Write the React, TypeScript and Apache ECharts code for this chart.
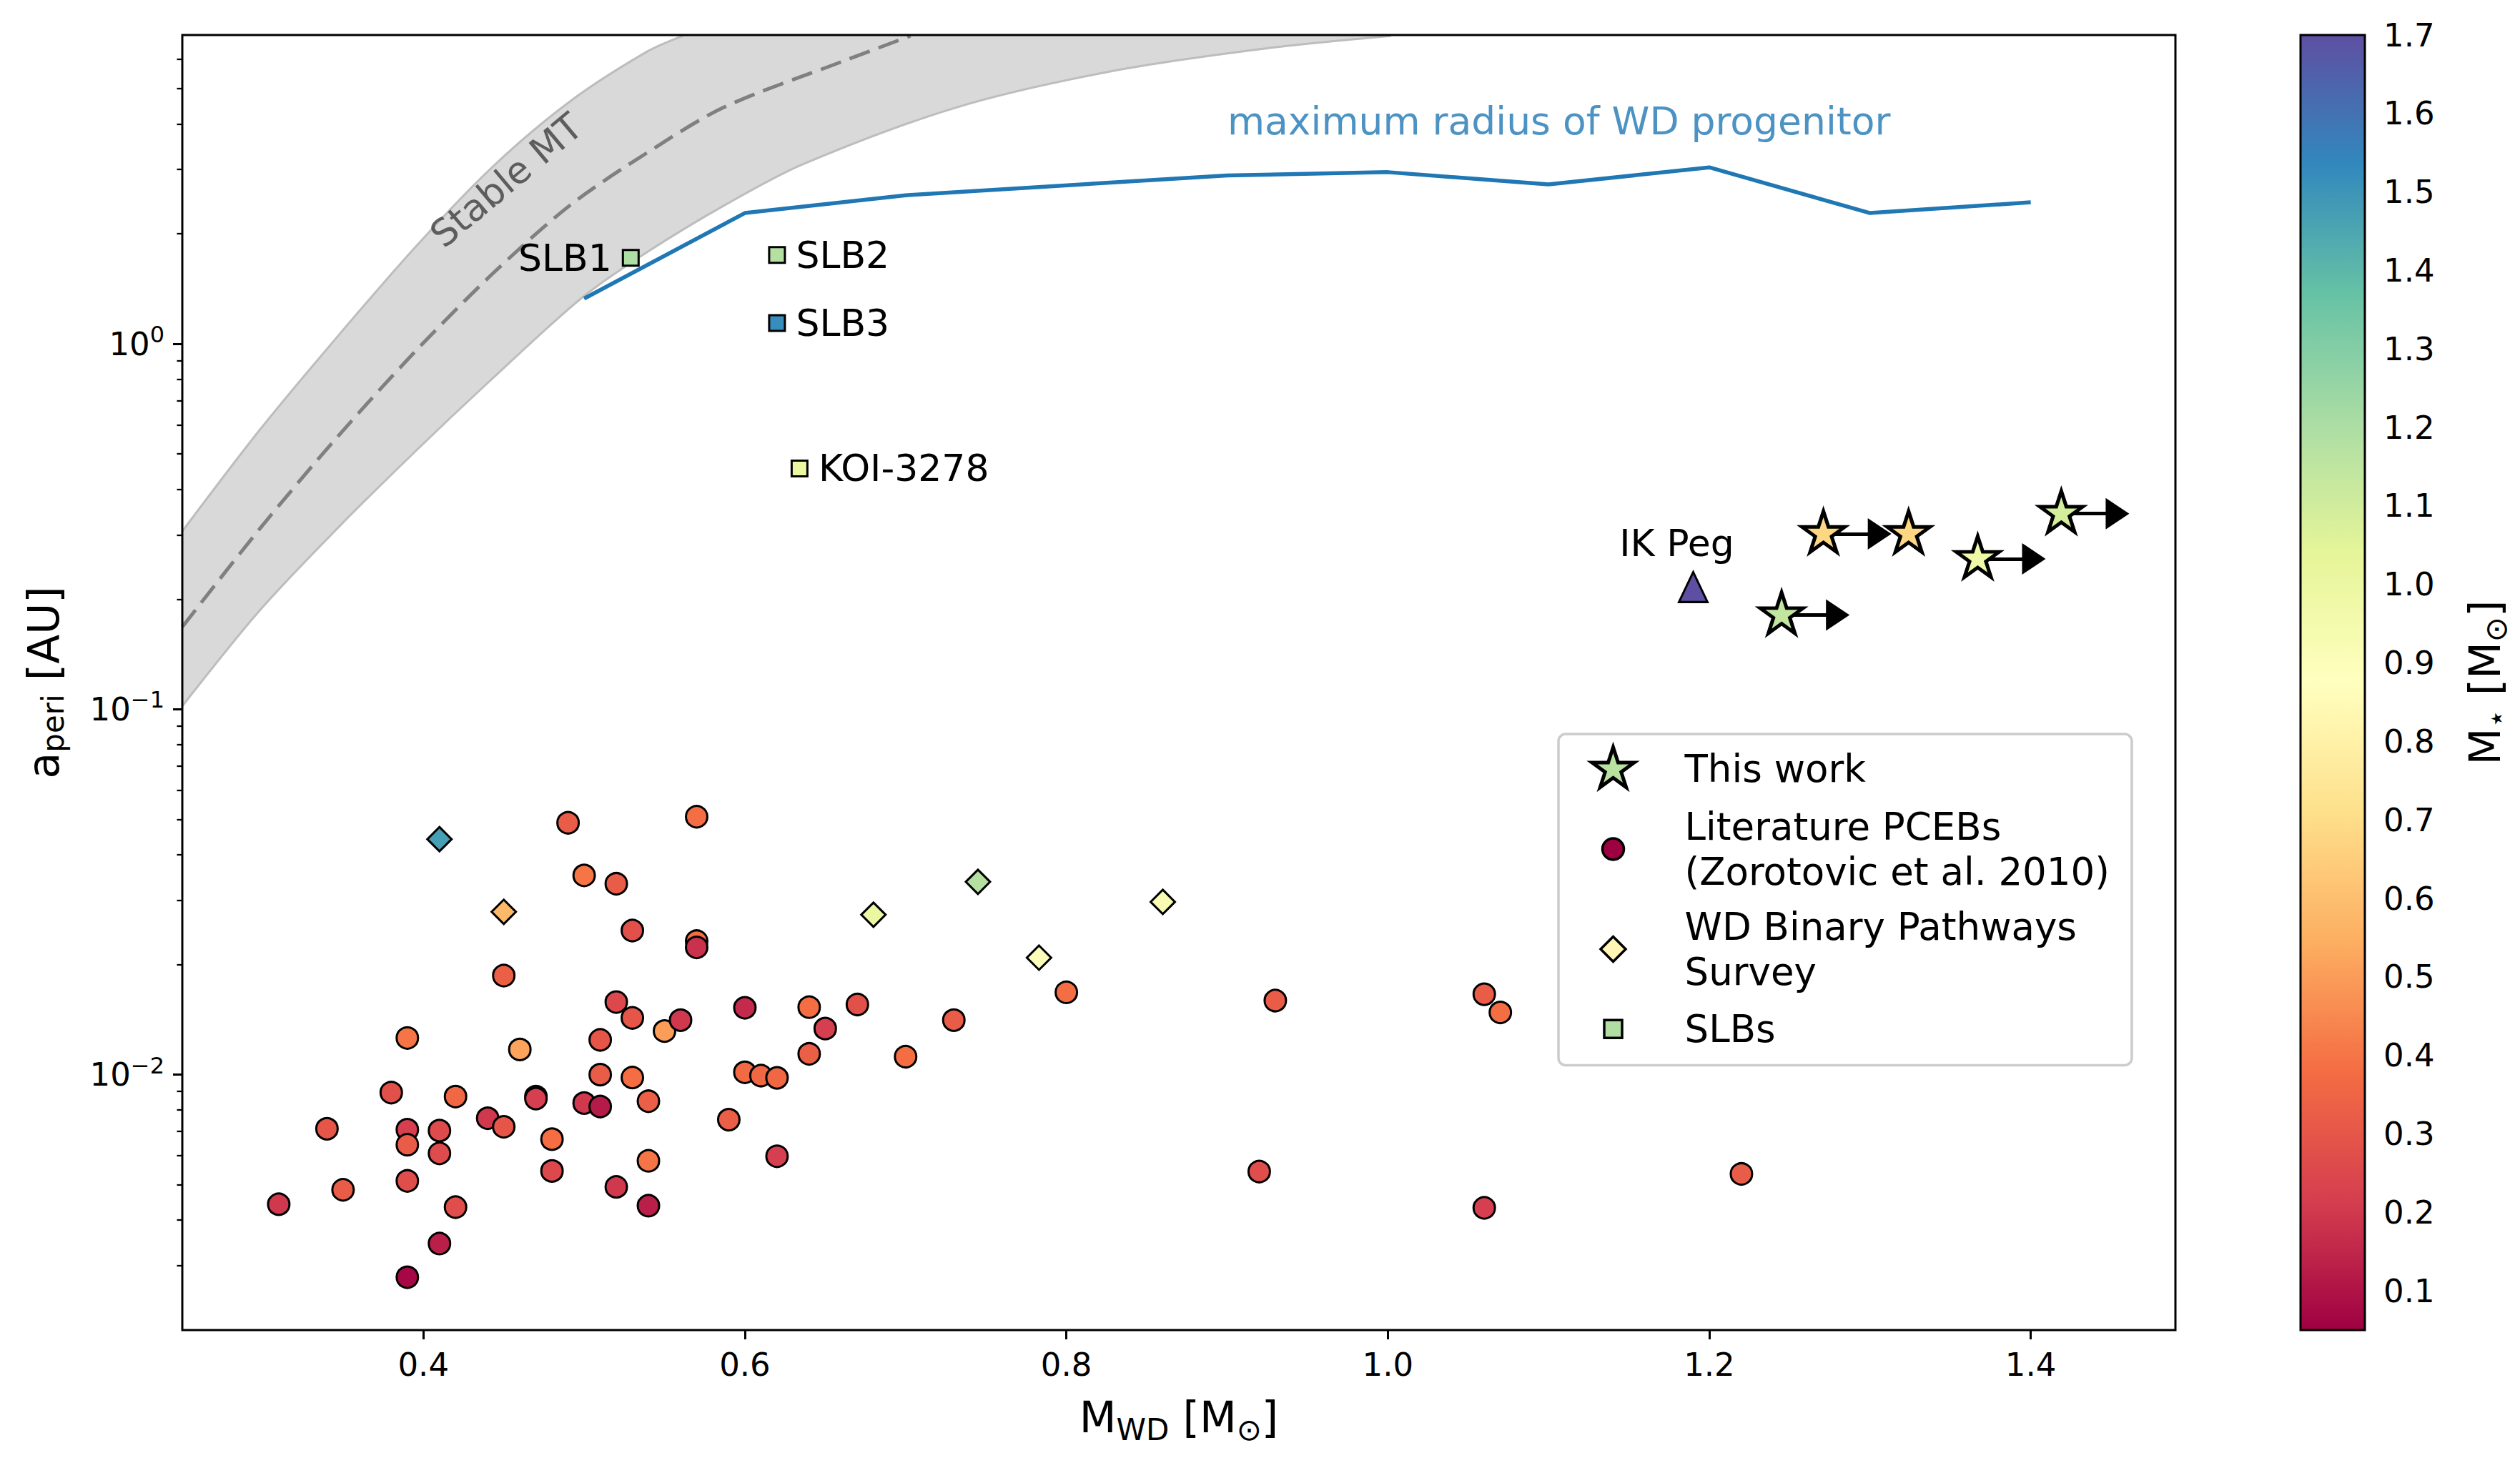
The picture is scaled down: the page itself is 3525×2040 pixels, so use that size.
import { useEffect, useRef } from 'react';
import * as echarts from 'echarts';

const FONT = 'DejaVu Sans';

// matplotlib "Spectral", low -> high
const spectral = ['#9e0142', '#d53e4f', '#f46d43', '#fdae61', '#fee08b', '#ffffbf', '#e6f598', '#abdda4', '#66c2a5', '#3288bd', '#5e4fa2'];

// axes
const xTicks = [0.4, 0.6, 0.8, 1.0, 1.2, 1.4];
const yTicks = [0.01, 0.1, 1];
const yMinorTicks = [0.003, 0.004, 0.005, 0.006, 0.007, 0.008, 0.009, 0.02, 0.03, 0.04, 0.05, 0.06, 0.07, 0.08, 0.09, 0.2, 0.3, 0.4, 0.5, 0.6, 0.7, 0.8, 0.9, 2, 3, 4, 5, 6];
const cbarTicks = [0.1, 0.2, 0.3, 0.4, 0.5, 0.6, 0.7, 0.8, 0.9, 1.0, 1.1, 1.2, 1.3, 1.4, 1.5, 1.6, 1.7];

// Literature PCEBs (Zorotovic et al. 2010)
const pcebMwd = [0.31, 0.34, 0.35, 0.38, 0.39, 0.39, 0.39, 0.39, 0.39, 0.41, 0.41, 0.41, 0.42, 0.42, 0.44, 0.45, 0.45, 0.46, 0.47, 0.47, 0.48, 0.48, 0.49, 0.50, 0.50, 0.51, 0.51, 0.51, 0.52, 0.52, 0.52, 0.53, 0.53, 0.53, 0.54, 0.54, 0.54, 0.55, 0.56, 0.57, 0.57, 0.57, 0.59, 0.60, 0.60, 0.61, 0.62, 0.62, 0.64, 0.64, 0.65, 0.67, 0.70, 0.73, 0.80, 0.92, 0.93, 1.06, 1.06, 1.07, 1.22];
const pcebA = [0.00442, 0.00711, 0.00484, 0.00893, 0.0126, 0.00707, 0.00643, 0.00512, 0.00279, 0.00703, 0.00609, 0.00345, 0.00871, 0.00434, 0.0076, 0.0072, 0.01867, 0.01172, 0.00871, 0.0086, 0.00666, 0.00545, 0.0489, 0.0351, 0.00836, 0.00818, 0.01245, 0.0100, 0.0333, 0.0158, 0.00493, 0.0248, 0.0143, 0.00982, 0.00846, 0.00581, 0.00438, 0.01316, 0.0141, 0.0508, 0.0232, 0.0223, 0.00753, 0.01524, 0.01015, 0.00994, 0.0098, 0.00598, 0.0153, 0.0114, 0.01337, 0.01556, 0.0112, 0.0141, 0.0168, 0.00543, 0.01595, 0.0166, 0.00432, 0.0148, 0.00535];
const pcebMstar = [0.20, 0.30, 0.32, 0.28, 0.40, 0.22, 0.32, 0.27, 0.07, 0.26, 0.26, 0.13, 0.36, 0.27, 0.20, 0.30, 0.33, 0.52, 0.30, 0.22, 0.38, 0.25, 0.32, 0.40, 0.20, 0.12, 0.30, 0.32, 0.32, 0.25, 0.20, 0.28, 0.30, 0.38, 0.33, 0.40, 0.13, 0.50, 0.20, 0.38, 0.38, 0.18, 0.33, 0.16, 0.37, 0.36, 0.36, 0.22, 0.38, 0.33, 0.22, 0.28, 0.38, 0.32, 0.38, 0.27, 0.32, 0.32, 0.22, 0.38, 0.32];

// WD Binary Pathways Survey
const wdbpMwd = [0.41, 0.45, 0.68, 0.745, 0.783, 0.86];
const wdbpA = [0.0441, 0.0279, 0.0274, 0.0337, 0.0209, 0.0297];
const wdbpMstar = [1.47, 0.58, 1.0, 1.18, 0.9, 0.93];

// self-lensing binaries
const slbNames = ['SLB1', 'SLB2', 'SLB3', 'KOI-3278'];
const slbMwd = [0.529, 0.62, 0.62, 0.634];
const slbA = [1.72, 1.75, 1.14, 0.456];
const slbMstar = [1.2, 1.18, 1.52, 1.0];
const slbLabelSide = ['left', 'right', 'right', 'right'];

// this work (lower limits on M_WD)
const thisMwd = [1.245, 1.271, 1.324, 1.367, 1.419];
const thisA = [0.181, 0.302, 0.302, 0.258, 0.343];
const thisMstar = [1.14, 0.68, 0.68, 0.98, 1.09];
const thisLowerLimit = [true, true, false, true, true];
const arrowLen = 0.0325;

// IK Peg
const ikMwd = [1.19];
const ikA = [0.216];
const ikMstar = [1.7];

// maximum radius of WD progenitor
const maxRadMwd = [0.5, 0.6, 0.7, 0.9, 1.0, 1.1, 1.2, 1.3, 1.4];
const maxRadA = [1.33, 2.28, 2.55, 2.89, 2.95, 2.73, 3.04, 2.28, 2.44];

// stable mass transfer band
const upperMwd = [0.25, 0.298, 0.346, 0.395, 0.443, 0.491, 0.539, 0.562];
const upperA = [0.307, 0.58, 1.04, 1.84, 3.05, 4.6, 6.3, 6.98];
const midMwd = [0.25, 0.298, 0.346, 0.395, 0.443, 0.491, 0.539, 0.587, 0.66, 0.703];
const midA = [0.168, 0.311, 0.553, 0.954, 1.555, 2.39, 3.33, 4.44, 5.91, 6.96];
const lowerMwd = [0.25, 0.298, 0.346, 0.395, 0.443, 0.498, 0.539, 0.587, 0.636, 0.732, 0.829, 0.925, 1.002];
const lowerA = [0.102, 0.186, 0.311, 0.508, 0.804, 1.33, 1.78, 2.39, 3.10, 4.44, 5.58, 6.44, 6.96];

const STAR = 'path://M100 0L122.45 69.1L195.11 69.1L136.33 111.8L158.78 180.9L100 138.2L41.22 180.9L63.67 111.8L4.89 69.1L77.55 69.1Z';
const ARROW_HEAD = 'path://M0 0L0 0M40 40L40 40M20 0L40 30L0 30Z';
// legend icons, padded out to the full 149x66 item box
const PAD = 'path://M0 0L0 0M149 66L149 66';
const legendIcons = [
  PAD + 'M54 3L60.96 24.42L83.48 24.42L65.26 37.66L72.22 59.08L54 45.84L35.78 59.08L42.74 37.66L24.52 24.42L47.04 24.42Z',
  PAD + 'M39 33A15 15 0 1 1 69 33A15 15 0 1 1 39 33Z',
  PAD + 'M54 15.5L71.5 33L54 50.5L36.5 33Z',
  PAD + 'M41.5 20.5L66.5 20.5L66.5 45.5L41.5 45.5Z',
];
const legendNames = ['This work', 'Literature PCEBs', 'WD Binary Pathways Survey', 'SLBs'];
const legendTexts = ['This work', 'Literature PCEBs\n(Zorotovic et al. 2010)', 'WD Binary Pathways\nSurvey', 'SLBs'];
const legendColors = ['#b9e1a0', '#9e0142', '#fff6b5', '#b0dea3'];

const zip = (xs: number[], ...cols: number[][]) => xs.map((x, i) => [x, ...cols.map((c) => c[i])]);

const richBase = (size: number) => ({ fontSize: size, fontFamily: FONT, color: '#000' });

function buildOption() {
  const axisName = (size: number, sub: number, drop: number) => ({
    rich: {
      a: richBase(size),
      s: { ...richBase(sub), padding: [drop, 0, 0, 0] },
    },
  });

  return {
    animation: false,
    backgroundColor: '#fff',
    textStyle: { fontFamily: FONT },
    grid: [
      { left: 255, top: 49, width: 2788, height: 1812, show: true, borderColor: '#000', borderWidth: 3, backgroundColor: 'transparent', z: 6, outerBoundsMode: 'none' },
      { left: 3218, top: 49, width: 90, height: 1812, show: true, borderColor: '#000', borderWidth: 3, backgroundColor: 'transparent', z: 10, outerBoundsMode: 'none' },
    ],
    xAxis: [
      {
        type: 'value', gridIndex: 0, min: 0.25, max: 1.49,
        axisLine: { show: false },
        axisTick: { show: true, length: 13, lineStyle: { color: '#000', width: 3 }, customValues: xTicks },
        axisLabel: { customValues: xTicks, formatter: (v: number) => v.toFixed(1), fontSize: 45, color: '#000', margin: 26, fontFamily: FONT },
        splitLine: { show: false },
        name: '{a|M}{s|WD}{a| [M}{s|⊙}{a|]}',
        nameLocation: 'middle', nameGap: 84, nameMoveOverlap: false,
        nameTextStyle: axisName(60, 42, 34),
      },
      { type: 'value', gridIndex: 1, min: 0, max: 1, show: false },
    ],
    yAxis: [
      {
        type: 'log', logBase: 10, gridIndex: 0, min: 0.002, max: 7,
        axisLine: { show: false },
        axisTick: { show: true, length: 13, lineStyle: { color: '#000', width: 3 }, customValues: yTicks },
        axisLabel: {
          customValues: yTicks, margin: 25,
          formatter: (v: number) => {
            const e = Math.round(Math.log10(v));
            return '{b|10}{s|' + (e < 0 ? '\u2212' + -e : String(e)) + '}';
          },
          rich: { b: richBase(45), s: { ...richBase(32), padding: [0, 0, 26, 0] } },
        },
        splitLine: { show: false },
        name: '{a|a}{s|peri}{a| [AU]}',
        nameLocation: 'middle', nameRotate: 90, nameGap: 160, nameMoveOverlap: false,
        nameTextStyle: axisName(60, 42, 26),
      },
      {
        type: 'log', logBase: 10, gridIndex: 0, min: 0.002, max: 7, position: 'left',
        axisLine: { show: false },
        axisTick: { show: true, length: 7.5, lineStyle: { color: '#000', width: 2.3 }, customValues: yMinorTicks },
        axisLabel: { show: false },
        splitLine: { show: false },
      },
      {
        type: 'value', gridIndex: 1, min: 0.05, max: 1.7, position: 'right',
        axisLine: { show: false },
        axisTick: { show: true, length: 13, lineStyle: { color: '#000', width: 3 }, customValues: cbarTicks },
        axisLabel: { customValues: cbarTicks, formatter: (v: number) => v.toFixed(1), fontSize: 45, color: '#000', margin: 26, fontFamily: FONT },
        splitLine: { show: false },
        name: '{a|M}{s|\u22c6}{a| [M}{s|⊙}{a|]}',
        nameLocation: 'middle', nameRotate: 90, nameGap: 132, nameMoveOverlap: false,
        nameTextStyle: axisName(60, 42, 30),
      },
    ],
    visualMap: {
      type: 'continuous', min: 0.05, max: 1.7, dimension: 2,
      seriesIndex: [5, 6, 7, 8, 9],
      inRange: { color: spectral },
      calculable: false, hoverLink: false, text: null,
      orient: 'vertical', left: 3218, top: 49, itemWidth: 90, itemHeight: 1812,
      padding: 0, borderWidth: 0,
    },
    legend: {
      orient: 'vertical', left: 2180, top: 1027,
      padding: [13, 31, 16, 20], itemGap: 14, itemWidth: 149, itemHeight: 66,
      backgroundColor: 'rgba(255,255,255,0.8)', borderColor: '#cccccc', borderWidth: 3.5, borderRadius: 10,
      selectedMode: false, z: 8,
      textStyle: { fontSize: 53, lineHeight: 63, color: '#000', fontFamily: FONT },
      formatter: (name: string) => legendTexts[legendNames.indexOf(name)],
      data: legendNames.map((name, i) => ({
        name,
        icon: legendIcons[i],
        itemStyle: { color: legendColors[i], borderColor: '#000', borderWidth: i === 0 ? 5 : 3.5 },
      })),
    },
    series: [
      {
        // 0: band, grey from the lower edge up
        type: 'line', z: 1, data: zip(lowerMwd, lowerA), symbol: 'none', smooth: 0.3, silent: true,
        lineStyle: { color: '#bdbdbd', width: 3 },
        areaStyle: { color: '#d9d9d9', opacity: 1, origin: 'end' },
      },
      {
        // 1: band, white again above the upper edge
        type: 'line', z: 1, data: zip(upperMwd, upperA), symbol: 'none', smooth: 0.3, silent: true,
        lineStyle: { color: '#bdbdbd', width: 3 },
        areaStyle: { color: '#ffffff', opacity: 1, origin: 'end' },
      },
      {
        // 2
        type: 'line', z: 2, data: zip(midMwd, midA), symbol: 'none', smooth: 0.3, silent: true,
        lineStyle: { color: '#808080', width: 5, type: [30, 13] },
      },
      {
        // 3
        type: 'line', z: 2, data: zip(maxRadMwd, maxRadA), symbol: 'none', silent: true,
        lineStyle: { color: '#1f77b4', width: 5.5 },
      },
      {
        // 4: lower-limit arrows
        type: 'lines', z: 3, coordinateSystem: 'cartesian2d', silent: true,
        symbol: ['none', ARROW_HEAD], symbolSize: 44,
        lineStyle: { color: '#000', width: 5, opacity: 1 },
        itemStyle: { color: '#000' },
        data: thisMwd
          .map((x, i) => ({ x, a: thisA[i], on: thisLowerLimit[i] }))
          .filter((d) => d.on)
          .map((d) => ({ coords: [[d.x, d.a], [d.x + arrowLen, d.a]] })),
      },
      {
        // 5
        name: 'Literature PCEBs', type: 'scatter', z: 4, symbol: 'circle', symbolSize: 30,
        itemStyle: { color: legendColors[1], borderColor: '#000', borderWidth: 3, opacity: 1 },
        data: zip(pcebMwd, pcebA, pcebMstar),
      },
      {
        // 6
        name: 'WD Binary Pathways Survey', type: 'scatter', z: 4, symbol: 'diamond', symbolSize: 34,
        itemStyle: { color: legendColors[2], borderColor: '#000', borderWidth: 3, opacity: 1 },
        data: zip(wdbpMwd, wdbpA, wdbpMstar),
      },
      {
        // 7
        name: 'SLBs', type: 'scatter', z: 4, symbol: 'rect', symbolSize: 22,
        itemStyle: { color: legendColors[3], borderColor: '#000', borderWidth: 3, opacity: 1 },
        label: {
          show: true, distance: 14, fontSize: 52, color: '#000', fontFamily: FONT,
          formatter: (p: any) => slbNames[p.dataIndex],
        },
        data: slbMwd.map((x, i) => ({ value: [x, slbA[i], slbMstar[i]], label: { position: slbLabelSide[i] } })),
      },
      {
        // 8
        name: 'IK Peg', type: 'scatter', z: 4, symbol: 'triangle', symbolSize: [40, 42],
        itemStyle: { borderColor: '#000', borderWidth: 3, opacity: 1 },
        label: { show: true, position: 'top', distance: 13, offset: [-23, 0], fontSize: 52, color: '#000', fontFamily: FONT, formatter: 'IK Peg' },
        data: zip(ikMwd, ikA, ikMstar),
      },
      {
        // 9
        name: 'This work', type: 'scatter', z: 5, symbol: STAR, symbolSize: [60, 57], symbolOffset: [0, -3],
        itemStyle: { color: legendColors[0], borderColor: '#000', borderWidth: 5, opacity: 1 },
        data: zip(thisMwd, thisA, thisMstar),
      },
      {
        // 10: band annotation
        type: 'scatter', z: 4, symbolSize: 1, silent: true, itemStyle: { color: 'transparent' },
        label: { show: true, position: 'inside', rotate: 40, fontSize: 52, color: '#3d3d3d', fontFamily: FONT, formatter: 'Stable MT' },
        data: [[0.4516, 2.805]],
      },
      {
        // 11: progenitor line annotation
        type: 'scatter', z: 4, symbolSize: 1, silent: true, itemStyle: { color: 'transparent' },
        label: { show: true, position: 'right', distance: 0, fontSize: 53.5, color: '#1f77b4', fontFamily: FONT, formatter: 'maximum radius of WD progenitor' },
        data: [[0.9, 4.06]],
      },
    ],
  };
}

export default function App() {
  const chartRef = useRef<HTMLDivElement>(null);

  useEffect(() => {
    if (!chartRef.current) return;
    const chart = echarts.init(chartRef.current, null, { renderer: 'svg' });
    chart.setOption(buildOption() as any);
    return () => {
      chart.dispose();
    };
  }, []);

  return (
    <div
      ref={chartRef}
      style={{ position: 'fixed', left: 0, top: 0, width: '3525px', height: '2040px', background: '#fff' }}
    />
  );
}
